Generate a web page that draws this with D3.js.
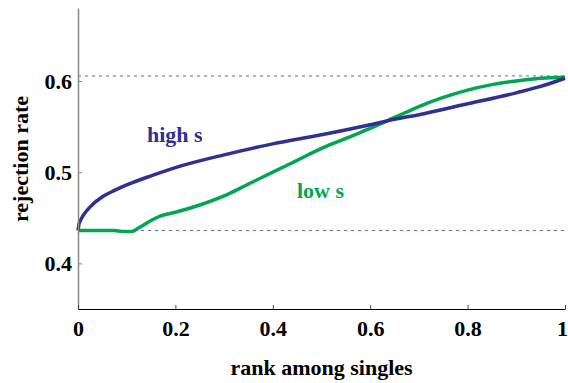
<!DOCTYPE html>
<html>
<head>
<meta charset="utf-8">
<script src="https://cdn.jsdelivr.net/npm/d3@7"></script>
<style>
  body { margin: 0; background: #fff; }
  svg text { font-family: "Liberation Serif", "Times New Roman", serif; font-weight: bold; }
</style>
</head>
<body>
<svg></svg>
<script>
var width = 568;
var height = 383;

// rank among singles
var rankHigh = [0, 0.002, 0.005, 0.01, 0.025, 0.05, 0.075, 0.1, 0.15, 0.2, 0.3, 0.4, 0.5, 0.6, 0.65, 0.7, 0.8, 0.9, 0.95, 1];
var rateHigh = [0.436, 0.443, 0.447, 0.452, 0.462, 0.473, 0.480, 0.486, 0.496, 0.505, 0.519, 0.531, 0.541, 0.552, 0.558, 0.563, 0.575, 0.587, 0.594, 0.603];

var rankLow = [0, 0.05, 0.075, 0.09, 0.11, 0.125, 0.15, 0.17, 0.2, 0.25, 0.3, 0.35, 0.4, 0.45, 0.5, 0.55, 0.6, 0.65, 0.7, 0.75, 0.8, 0.85, 0.9, 0.95, 1];
var rateLow = [0.436, 0.436, 0.436, 0.435, 0.435, 0.439, 0.447, 0.452, 0.456, 0.464, 0.474, 0.487, 0.5, 0.513, 0.526, 0.537, 0.548, 0.560, 0.572, 0.582, 0.590, 0.596, 0.600, 0.603, 0.604];

// reference levels (dotted)
var refLevels = [0.6055, 0.436];

var xTicks = [0, 0.2, 0.4, 0.6, 0.8, 1];
var yTicks = [0.4, 0.5, 0.6];

var blue = "#2e3192";
var green = "#00a651";

var x = d3.scaleLinear().domain([0, 1]).range([78, 565]);
var y = d3.scaleLinear().domain([0.35, 0.68]).range([309, 8]);

var svg = d3.select("svg")
    .attr("width", width)
    .attr("height", height);

svg.selectAll(".ref")
    .data(refLevels)
  .enter().append("line")
    .attr("class", "ref")
    .attr("x1", x(0))
    .attr("x2", x(1))
    .attr("y1", d => y(d))
    .attr("y2", d => y(d))
    .attr("stroke", "#6266b0")
    .attr("stroke-width", 1)
    .attr("stroke-dasharray", "3,4");

var line = d3.line()
    .x(d => x(d[0]))
    .y(d => y(d[1]))
    .curve(d3.curveMonotoneX);

svg.append("path")
    .datum(d3.zip(rankLow, rateLow))
    .attr("d", line)
    .attr("fill", "none")
    .attr("stroke", green)
    .attr("stroke-width", 3.5);

svg.append("path")
    .datum(d3.zip(rankHigh, rateHigh))
    .attr("d", line)
    .attr("fill", "none")
    .attr("stroke", blue)
    .attr("stroke-width", 3.5);

var yAxis = svg.append("g")
    .attr("transform", "translate(" + x(0) + ",0)")
    .call(d3.axisLeft(y).tickValues(yTicks).tickFormat(d3.format(".1f"))
            .tickSizeInner(-4).tickSizeOuter(0).tickPadding(6));
yAxis.select(".domain").attr("stroke", "#888").attr("stroke-width", 1.5);
yAxis.selectAll(".tick line").attr("stroke", "#888");
yAxis.selectAll("text")
    .attr("font-size", 22)
    .attr("fill", "#000");

var xAxis = svg.append("g")
    .attr("transform", "translate(0," + y(0.35) + ")")
    .call(d3.axisBottom(x).tickValues(xTicks).tickFormat(d => d === 0 || d === 1 ? d3.format("d")(d) : d3.format(".1f")(d))
            .tickSizeInner(-4).tickSizeOuter(0));
xAxis.select(".domain").attr("stroke", "#000").attr("stroke-width", 1.2);
xAxis.selectAll(".tick line").attr("stroke", "#444");
xAxis.selectAll("text")
    .attr("font-size", 22)
    .attr("fill", "#000")
    .attr("y", 27)
    .attr("dy", null)
    .attr("x", d => d === 1 ? -3 : 0);

svg.append("text")
    .attr("x", (x(0) + x(1)) / 2)
    .attr("y", 375)
    .attr("text-anchor", "middle")
    .attr("font-size", 22)
    .text("rank among singles");

svg.append("text")
    .attr("transform", "rotate(-90)")
    .attr("x", -159)
    .attr("y", 28)
    .attr("text-anchor", "middle")
    .attr("font-size", 22)
    .text("rejection rate");

svg.append("text")
    .attr("x", 147)
    .attr("y", 142)
    .attr("font-size", 22)
    .attr("fill", blue)
    .text("high s");

svg.append("text")
    .attr("x", 297)
    .attr("y", 198)
    .attr("font-size", 22)
    .attr("fill", green)
    .text("low s");
</script>
</body>
</html>
